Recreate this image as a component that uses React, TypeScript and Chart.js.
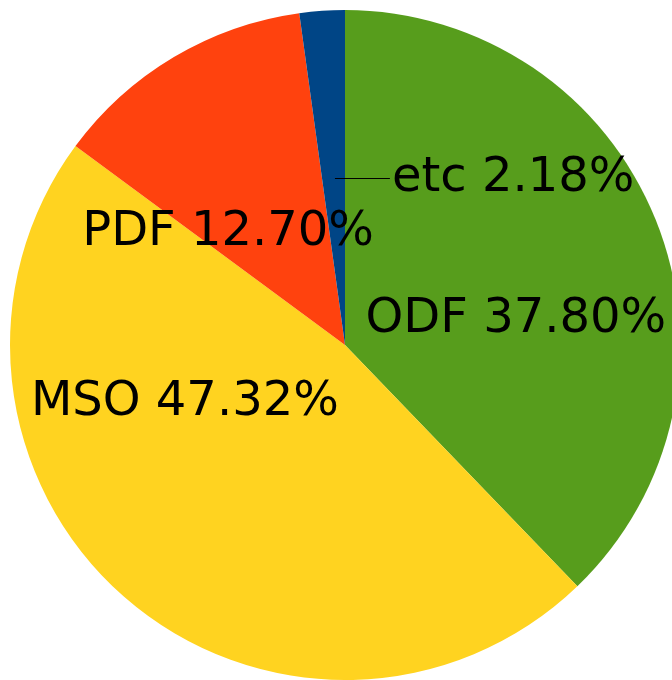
import React, { useEffect, useRef } from "react";
import { Chart, registerables } from "chart.js";

Chart.register(...registerables);

const categories = ["ODF", "MSO", "PDF", "etc"];
const shares = [37.8, 47.32, 12.7, 2.18];
const colors = ["#579D1C", "#FFD320", "#FF420E", "#004586"];

// label anchor relative to pie center, in units of radius
const labelPlacement = [
  { dx: 0.51, dy: -0.08, align: "center" },
  { dx: -0.478, dy: 0.168, align: "center" },
  { dx: -0.349, dy: -0.339, align: "center" },
  { dx: 0.14, dy: -0.5, align: "left", leaderFrom: -0.03 },
];

const labelPlugin = {
  id: "pieLabels",
  afterDatasetsDraw(chart: any) {
    const meta = chart.getDatasetMeta(0);
    const ctx = chart.ctx;
    const arc0 = meta.data[0];
    if (!arc0) return;
    const cx = arc0.x;
    const cy = arc0.y;
    const r = arc0.outerRadius;
    ctx.save();
    ctx.font = "48px 'DejaVu Sans'";
    ctx.fillStyle = "#000000";
    ctx.textBaseline = "middle";
    categories.forEach((c, i) => {
      const p = labelPlacement[i] as any;
      const x = cx + p.dx * r;
      const y = cy + p.dy * r;
      const text = `${c} ${shares[i].toFixed(2)}%`;
      ctx.textAlign = p.align;
      ctx.fillText(text, x, y + 1);
      if (p.leaderFrom !== undefined) {
        ctx.beginPath();
        ctx.strokeStyle = "#000000";
        ctx.lineWidth = 1;
        ctx.moveTo(cx + p.leaderFrom * r, Math.round(y) + 0.5);
        ctx.lineTo(x - 2, Math.round(y) + 0.5);
        ctx.stroke();
      }
    });
    ctx.restore();
  },
};

export default function App() {
  const ref = useRef<HTMLCanvasElement>(null);
  useEffect(() => {
    document.body.style.margin = "0";
    const chart = new Chart(ref.current!, {
      type: "pie",
      data: {
        labels: categories,
        datasets: [
          {
            data: shares,
            backgroundColor: colors,
            borderWidth: 0,
          },
        ],
      },
      options: {
        responsive: false,
        animation: false,
        layout: { padding: 10 },
        plugins: {
          legend: { display: false },
          tooltip: { enabled: false },
        },
      },
      plugins: [labelPlugin],
    });
    return () => chart.destroy();
  }, []);
  return (
    <div style={{ width: 672, height: 680, overflow: "hidden", position: "relative", background: "#fff" }}>
      <canvas ref={ref} width={690} height={690} style={{ display: "block" }} />
    </div>
  );
}
